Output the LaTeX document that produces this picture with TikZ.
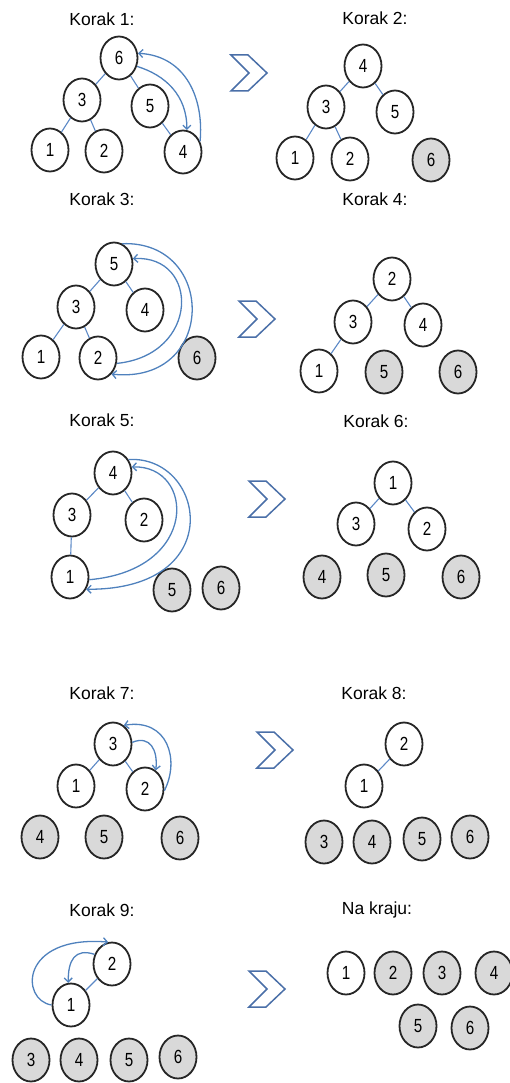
\documentclass[tikz,border=0pt]{standalone}
\usepackage{fontspec}
\setmainfont{Liberation Sans}
\newfontfamily\narrowfont[FakeStretch=0.8]{Liberation Sans}
\usetikzlibrary{shapes.geometric,arrows.meta}
\definecolor{edgeblue}{HTML}{5B88C6}
\definecolor{arrblue}{HTML}{4F81BD}
\definecolor{chevblue}{HTML}{4A6FA8}
\definecolor{nodegray}{HTML}{D9D9D9}
\definecolor{rim}{HTML}{262626}
\tikzset{
 hn/.style={ellipse, draw=rim, line width=1.8pt, minimum width=37pt, minimum height=43pt, inner sep=0pt, font=\narrowfont\fontsize{19}{19}\selectfont, fill=white},
 hg/.style={hn, fill=nodegray},
 title/.style={font=\fontsize{17.5}{18}\selectfont, inner sep=0pt},
 tedge/.style={draw=edgeblue, line width=1.1pt},
 swaparr/.style={draw=arrblue, line width=1.3pt, -{Straight Barb[length=4pt,width=8pt]}},
 chev/.style={draw=chevblue, line width=1.5pt, line join=miter},
 chevron/.pic={\draw[chev] (0,0) -- (17,0) -- (36,18) -- (17,36) -- (0,36) -- (18,18) -- cycle;}
}
\begin{document}
\begin{tikzpicture}[x=1pt,y=-1pt]
\useasboundingbox (0,0) rectangle (509,1083);
% titles
\node[title] (t1) at (102,19) {Korak 1:};
\node[title] (t2) at (375,18) {Korak 2:};
\node[title] (t3) at (102,199) {Korak 3:};
\node[title] (t4) at (375,199) {Korak 4:};
\node[title] (t5) at (102,420) {Korak 5:};
\node[title] (t6) at (376,421) {Korak 6:};
\node[title] (t7) at (102,693) {Korak 7:};
\node[title] (t8) at (374,693) {Korak 8:};
\node[title] (t9) at (102,910) {Korak 9:};
\node[title] (t10) at (377,910) {Na kraju:};
% chevrons
\pic at (231,55) {chevron};
\pic at (239,301) {chevron};
\pic at (249,481) {chevron};
\pic at (257,732) {chevron};
\pic at (249,971) {chevron};
% Korak 1
\node[hn] (a6) at (119,58) {6};
\node[hn] (a3) at (82,100) {3};
\node[hn] (a5) at (150,106) {5};
\node[hn] (a1) at (50,150) {1};
\node[hn] (a2) at (104,151) {2};
\node[hn] (a4) at (183,152) {4};
\draw[tedge] (a6) -- (a3); \draw[tedge] (a6) -- (a5);
\draw[tedge] (a3) -- (a1); \draw[tedge] (a3) -- (a2);
\draw[tedge] (a5) -- (a4);
\draw[swaparr] (a6.-25) .. controls (165,75) and (187,95) .. (a4.80);
\draw[swaparr] (a4.32) .. controls (204,100) and (187,56) .. (a6.14);
% Korak 2
\node[hn] (b4) at (363,66) {4};
\node[hn] (b3) at (326,107) {3};
\node[hn] (b5) at (395,112) {5};
\node[hn] (b1) at (295,158) {1};
\node[hn] (b2) at (350,159) {2};
\node[hg] (b6) at (431,160) {6};
\draw[tedge] (b4) -- (b3); \draw[tedge] (b4) -- (b5);
\draw[tedge] (b3) -- (b1); \draw[tedge] (b3) -- (b2);
% Korak 3
\node[hn] (c5) at (114,264) {5};
\node[hn] (c3) at (76,307) {3};
\node[hn] (c4) at (145,310) {4};
\node[hn] (c1) at (41,357) {1};
\node[hn] (c2) at (98,358) {2};
\node[hg] (c6) at (197,358) {6};
\draw[tedge] (c5) -- (c3); \draw[tedge] (c5) -- (c4);
\draw[tedge] (c3) -- (c1); \draw[tedge] (c3) -- (c2);
\draw[swaparr] (c5.68) .. controls (217,240) and (217,385) .. (c2.-50);
\draw[swaparr] (c2.-16) .. controls (200,355) and (200,255) .. (c5.16);
% Korak 4
\node[hn] (d2) at (392,279) {2};
\node[hn] (d3) at (353,322) {3};
\node[hn] (d4) at (423,325) {4};
\node[hn] (d1) at (319,371) {1};
\node[hg] (d5) at (384,372) {5};
\node[hg] (d6) at (458,372) {6};
\draw[tedge] (d2) -- (d3); \draw[tedge] (d2) -- (d4);
\draw[tedge] (d3) -- (d1);
% Korak 5
\node[hn] (e4) at (113,473) {4};
\node[hn] (e3) at (72,515) {3};
\node[hn] (e2) at (144,520) {2};
\node[hn] (e1) at (70,577) {1};
\node[hg] (e5) at (172,590) {5};
\node[hg] (e6) at (221,588) {6};
\draw[tedge] (e4) -- (e3); \draw[tedge] (e4) -- (e2);
\draw[tedge] (e3) -- (e1);
\draw[swaparr] (e4.41) .. controls (205,455) and (230,590) .. (e1.-37);
\draw[swaparr] (e1.-8) .. controls (200,570) and (195,465) .. (e4.18);
% Korak 6
\node[hn] (f1) at (393,483) {1};
\node[hn] (f3) at (356,524) {3};
\node[hn] (f2) at (427,529) {2};
\node[hg] (f4) at (322,577) {4};
\node[hg] (f5) at (386,575) {5};
\node[hg] (f6) at (461,577) {6};
\draw[tedge] (f1) -- (f3); \draw[tedge] (f1) -- (f2);
% Korak 7
\node[hn] (g3) at (113,744) {3};
\node[hn] (g1) at (76,786) {1};
\node[hn] (g2) at (145,789) {2};
\node[hg] (g4) at (40,837) {4};
\node[hg] (g5) at (104,837) {5};
\node[hg] (g6) at (180,838) {6};
\draw[tedge] (g3) -- (g1); \draw[tedge] (g3) -- (g2);
\draw[swaparr] (g3.5) .. controls (150,735) and (158,750) .. (g2.60);
\draw[swaparr] (g2.-5) .. controls (180,760) and (168,718) .. (g3.60);
% Korak 8
\node[hn] (h2) at (404,744) {2};
\node[hn] (h1) at (364,786) {1};
\node[hg] (h3) at (324,842) {3};
\node[hg] (h4) at (372,842) {4};
\node[hg] (h5) at (422,839) {5};
\node[hg] (h6) at (470,837) {6};
\draw[tedge] (h2) -- (h1);
% Korak 9
\node[hn] (i2) at (112,964) {2};
\node[hn] (i1) at (71,1005) {1};
\node[hg] (i3) at (31,1060) {3};
\node[hg] (i4) at (79,1060) {4};
\node[hg] (i5) at (129,1060) {5};
\node[hg] (i6) at (178,1057) {6};
\draw[tedge] (i2) -- (i1);
\draw[swaparr] (i1.180) .. controls (20,1000) and (20,935) .. (i2.100);
\draw[swaparr] (i2.151) .. controls (75,948) and (68,960) .. (i1.97);
% Na kraju
\node[hn] (j1) at (346,973) {1};
\node[hg] (j2) at (393,973) {2};
\node[hg] (j3) at (442,973) {3};
\node[hg] (j4) at (494,973) {4};
\node[hg] (j5) at (418,1026) {5};
\node[hg] (j6) at (470,1028) {6};
\end{tikzpicture}
\end{document}
